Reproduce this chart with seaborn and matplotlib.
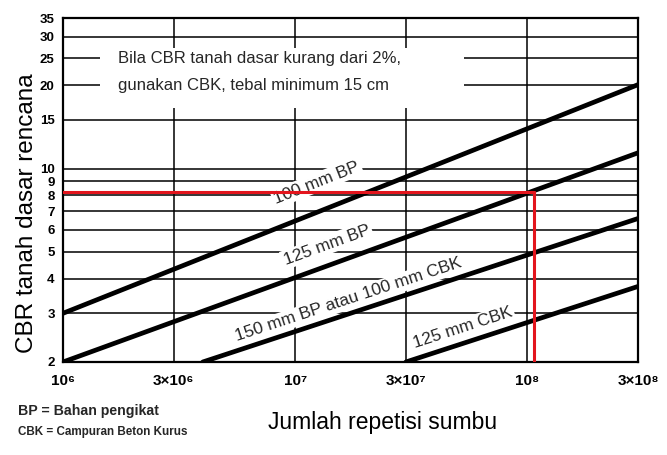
import math
import pandas as pd
import matplotlib
matplotlib.use("Agg")
import matplotlib.pyplot as plt
from matplotlib.patches import Rectangle
from matplotlib.ticker import NullLocator
import seaborn as sns

# ---- data ----
x_ticks = [1e6, 3e6, 1e7, 3e7, 1e8, 3e8]
x_tick_labels = ["10⁶", "3×10⁶", "10⁷", "3×10⁷", "10⁸", "3×10⁸"]
y_ticks = [2, 3, 4, 5, 6, 7, 8, 9, 10, 15, 20, 25, 30, 35]

curve_names = ["100 mm BP", "125 mm BP", "150 mm BP atau 100 mm CBK", "125 mm CBK"]
curve_x_start = [1e6, 1e6, 4e6, 3e7]
curve_y_start = [3.0, 2.0, 2.0, 2.0]
curve_x_end = [3e8, 3e8, 3e8, 3e8]
curve_y_end = [20.1, 11.4, 6.6, 3.75]

design_repetitions = 1.07e8
design_cbr = 8.25

note_lines = ["Bila CBR tanah dasar kurang dari 2%,", "gunakan CBK, tebal minimum 15 cm"]
legend_lines = ["BP = Bahan pengikat", "CBK = Campuran Beton Kurus"]

rows = []
for name, xs, ys, xe, ye in zip(curve_names, curve_x_start, curve_y_start, curve_x_end, curve_y_end):
    rows.append({"repetisi": xs, "cbr": ys, "tebal": name})
    rows.append({"repetisi": xe, "cbr": ye, "tebal": name})
df = pd.DataFrame(rows)

sns.set_theme(style="white")
plt.rcParams["font.family"] = ["Liberation Sans", "DejaVu Sans"]

fig = plt.figure(figsize=(6.67, 4.55), dpi=100)
ax = fig.add_axes([0.0945, 0.2044, 0.862, 0.756])

ax.set_xscale("log")
ax.set_yscale("log")

sns.lineplot(data=df, x="repetisi", y="cbr", units="tebal", estimator=None,
             color="black", linewidth=3.4, ax=ax, zorder=4, legend=False)
ax.set_xlim(1e6, 3e8)
ax.set_ylim(2, 35)

# grid
ax.set_xticks(x_ticks)
ax.set_xticklabels(x_tick_labels, fontweight="bold", fontsize=11)
ax.set_yticks(y_ticks)
ax.set_yticklabels([str(v) for v in y_ticks], fontweight="bold", fontsize=9.5)
ax.xaxis.set_minor_locator(NullLocator())
ax.yaxis.set_minor_locator(NullLocator())
ax.tick_params(length=0, pad=6, colors="black")
ax.tick_params(axis="x", pad=9)
ax.grid(True, which="major", color="black", linewidth=1.1, zorder=0)
ax.set_axisbelow(True)
for s in ax.spines.values():
    s.set_color("black")
    s.set_linewidth(1.6)
    s.set_zorder(5)

# white box behind the note
ax.add_patch(Rectangle((0.064, 0.738), 0.633, 0.175, transform=ax.transAxes,
                       facecolor="white", edgecolor="none", zorder=2))
ax.text(1.73e6, 25, note_lines[0], fontsize=12, va="center", ha="left", zorder=3)
ax.text(1.73e6, 20, note_lines[1], fontsize=12, va="center", ha="left", zorder=3)

# curve labels, rotated along each curve
label_pos = [(1.24e7, 8.9), (1.37e7, 5.3), (1.69e7, 3.35), (5.28e7, 2.65)]
for name, xs, ys, xe, ye, (lx, ly) in zip(curve_names, curve_x_start, curve_y_start,
                                           curve_x_end, curve_y_end, label_pos):
    p0 = ax.transData.transform((xs, ys))
    p1 = ax.transData.transform((xe, ye))
    ang = math.degrees(math.atan2(p1[1] - p0[1], p1[0] - p0[0]))
    ax.text(lx, ly, name, rotation=ang, rotation_mode="anchor", ha="center", va="center",
            fontsize=12.5, zorder=3,
            bbox=dict(facecolor="white", edgecolor="none", pad=1.5))

# design reading (red)
ax.plot([1e6, design_repetitions], [design_cbr, design_cbr], color="#e3151d", lw=2.2, zorder=6)
ax.plot([design_repetitions, design_repetitions], [design_cbr, 2], color="#e3151d", lw=2.2, zorder=6)

ax.set_xlabel("Jumlah repetisi sumbu", fontsize=16.5, color="black", va="center")
ax.xaxis.set_label_coords(0.555, -0.177)
ax.set_ylabel("CBR tanah dasar rencana", fontsize=17.5, color="black", va="center")
ax.yaxis.set_label_coords(-0.063, 0.433)

fig.text(0.027, 0.097, legend_lines[0], fontsize=10.2, fontweight="bold", va="center")
fig.text(0.027, 0.05, legend_lines[1], fontsize=8.4, fontweight="bold", va="center")

fig.savefig("out.png", dpi=100)
